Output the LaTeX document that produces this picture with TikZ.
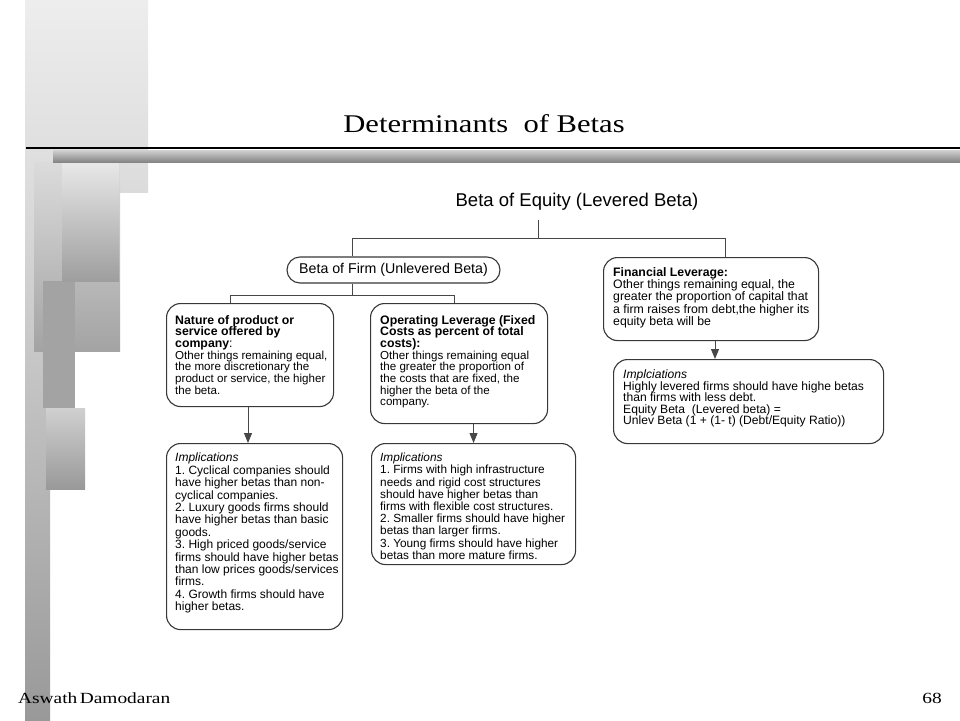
\documentclass[tikz,border=0pt]{standalone}
\usepackage{fontspec}
\setmainfont{Liberation Sans}
\newfontfamily\slidefont{Liberation Serif}
\usepackage{graphicx}
\usepackage{tikz}
\usetikzlibrary{arrows.meta,positioning}
\usepackage{xcolor}
\frenchspacing
\definecolor{cardline}{gray}{0.22}
\definecolor{linkgray}{gray}{0.28}
\definecolor{paleTop}{gray}{0.93}
\definecolor{paleBot}{gray}{0.86}
\definecolor{barTop}{gray}{0.86}
\definecolor{barBot}{gray}{0.60}
\definecolor{blockTop}{gray}{0.91}
\definecolor{blockBot}{gray}{0.62}
\definecolor{midGray}{gray}{0.64}
\definecolor{railTop}{gray}{0.82}
\definecolor{railBot}{gray}{0.52}

\begin{document}
\begin{tikzpicture}[x=1pt, y=-1pt,
  card/.style={draw=cardline, line width=1.1pt, rounded corners=14pt, fill=white,
               anchor=north west, inner sep=0pt},
  pill/.style={draw=cardline, line width=1.1pt, rounded corners=13pt, fill=white,
               minimum width=213pt, minimum height=26pt, inner sep=0pt},
  txt/.style={anchor=north west, inner sep=0pt},
  link/.style={draw=linkgray, line width=1pt},
  >={Triangle[width=8pt,length=10pt]}
]
  \useasboundingbox (0,0) rectangle (960,720);
  \fill[white] (0,0) rectangle (960,720);

  % Slide decoration
  \shade[top color=paleTop, bottom color=paleBot] (25,0) rectangle (148,192);
  \shade[top color=barTop, bottom color=barBot] (25,192) rectangle (50,720);
  \shade[top color=barTop, bottom color=midGray] (34,162) rectangle (120,351);
  \fill[midGray] (43,281) rectangle (75,408);
  \shade[top color=barTop!80!midGray, bottom color=barBot] (46,408) rectangle (85,489);
  \shade[top color=blockTop, bottom color=blockBot] (62,162) rectangle (119,281);
  \draw[line width=1.3pt] (26,148) -- (960,148);
  \shade[top color=railTop, bottom color=railBot] (53,150) rectangle (960,162);

  % Title and footer
  \node[anchor=base, font=\slidefont\fontsize{25.5}{25.5}\selectfont] (title) at (484,132)
    {\scalebox{1.2}[1]{Determinants~ of Betas}};
  \node[anchor=base west, font=\slidefont\fontsize{15.5}{15.5}\selectfont, inner sep=0pt] (author) at (18,703)
    {\scalebox{1.25}[1]{Aswath\hspace{2pt}Damodaran}};
  \node[anchor=base east, font=\slidefont\fontsize{15.5}{15.5}\selectfont, inner sep=0pt] (page) at (942,703)
    {\scalebox{1.25}[1]{68}};

  % Top of the tree
  \node[anchor=base, inner ysep=9pt, font=\fontsize{18.5}{18.5}\selectfont] (eq) at (577,206.5) {Beta of Equity (Levered Beta)};
  \node[pill, font=\fontsize{14.2}{14.2}\selectfont] (firm) at (393.5,270) {Beta of Firm (Unlevered Beta)};

  % Determinants
  \node[card, minimum width=167pt, minimum height=103pt] (nature) at (166,303) {};
  \node[txt, font=\fontsize{11.6}{11.6}\selectfont] (natureText) at ([shift={(9,12)}]nature.north west) {\parbox[t]{220pt}{\raggedright
    {\fontsize{12.3}{11.8}\selectfont\bfseries Nature of product or\\ service offered by\\ company\mdseries:\par}
    Other things remaining equal,\\ the more discretionary the\\ product or service, the higher\\ the beta.}};

  \node[card, minimum width=177pt, minimum height=120pt] (oper) at (370,303) {};
  \node[txt, font=\fontsize{11.6}{11.6}\selectfont] (operText) at ([shift={(10,12)}]oper.north west) {\parbox[t]{220pt}{\raggedright
    {\fontsize{12.3}{11.8}\selectfont\bfseries Operating Leverage (Fixed\\ Costs as percent of total\\ costs):\par}
    Other things remaining equal\\ the greater the proportion of\\ the costs that are fixed, the\\ higher the beta of the\\ company.}};

  \node[card, minimum width=215pt, minimum height=83pt] (fin) at (603,257) {};
  \node[txt, font=\fontsize{12.3}{12.3}\selectfont] (finText) at ([shift={(10,10)}]fin.north west) {\parbox[t]{260pt}{\raggedright
    {\bfseries Financial Leverage:\par}
    Other things remaining equal, the\\ greater the proportion of capital that\\ a firm raises from debt,the higher its\\ equity beta will be}};

  % Implications
  \node[card, minimum width=176pt, minimum height=186pt] (impl1) at (166,443) {};
  \node[txt, font=\fontsize{12}{12.4}\selectfont] (impl1Text) at ([shift={(9,10)}]impl1.north west) {\parbox[t]{220pt}{\raggedright
    \textit{Implications}\\ 1. Cyclical companies should\\ have higher betas than non-\\ cyclical companies.\\
    2. Luxury goods firms should\\ have higher betas than basic\\ goods.\\ 3. High priced goods/service\\
    firms should have higher betas\\ than low prices goods/services\\ firms.\\ 4. Growth firms should have\\ higher betas.}};

  \node[card, minimum width=204pt, minimum height=121pt] (impl2) at (371,443) {};
  \node[txt, font=\fontsize{11.8}{12.2}\selectfont] (impl2Text) at ([shift={(9,10)}]impl2.north west) {\parbox[t]{260pt}{\raggedright
    \textit{Implications}\\ 1. Firms with high infrastructure\\ needs and rigid cost structures\\ should have higher betas than\\
    firms with flexible cost structures.\\ 2. Smaller firms should have higher\\ betas than larger firms.\\
    3. Young firms should have higher\\ betas than more mature firms.}};

  \node[card, minimum width=270pt, minimum height=84pt] (impl3) at (613,359) {};
  \node[txt, font=\fontsize{12.1}{11.5}\selectfont] (impl3Text) at ([shift={(10,11)}]impl3.north west) {\parbox[t]{300pt}{\raggedright
    \textit{Implciations}\\ Highly levered firms should have highe betas\\ than firms with less debt.\\
    Equity Beta~ (Levered beta) =\\ Unlev Beta (1 + (1- t) (Debt/Equity Ratio))}};

  % Tree lines
  \coordinate (eqjoin) at (538,238);
  \coordinate (firmjoin) at (352,238);
  \coordinate (finjoin) at (725,238);
  \draw[link] (eqjoin |- eq.south) -- (eqjoin);
  \draw[link] (firmjoin |- firm.north) -- (firmjoin) -- (finjoin) -- (finjoin |- fin.north);
  \coordinate (firmfoot) at (352,295);
  \coordinate (splitL) at (230,295);
  \coordinate (splitR) at (454,295);
  \draw[link] (firmfoot |- firm.south) -- (firmfoot);
  \draw[link] (splitL |- nature.north) -- (splitL) -- (splitR) -- (splitR |- oper.north);

  % Arrows to implications
  \coordinate (natureArrow) at (248,0);
  \coordinate (finArrow) at (715,0);
  \draw[link,->] (natureArrow |- nature.south) -- (natureArrow |- impl1.north);
  \draw[link,->] (impl2.north |- oper.south) -- (impl2.north);
  \draw[link,->] (finArrow |- fin.south) -- (finArrow |- impl3.north);
\end{tikzpicture}
\end{document}
